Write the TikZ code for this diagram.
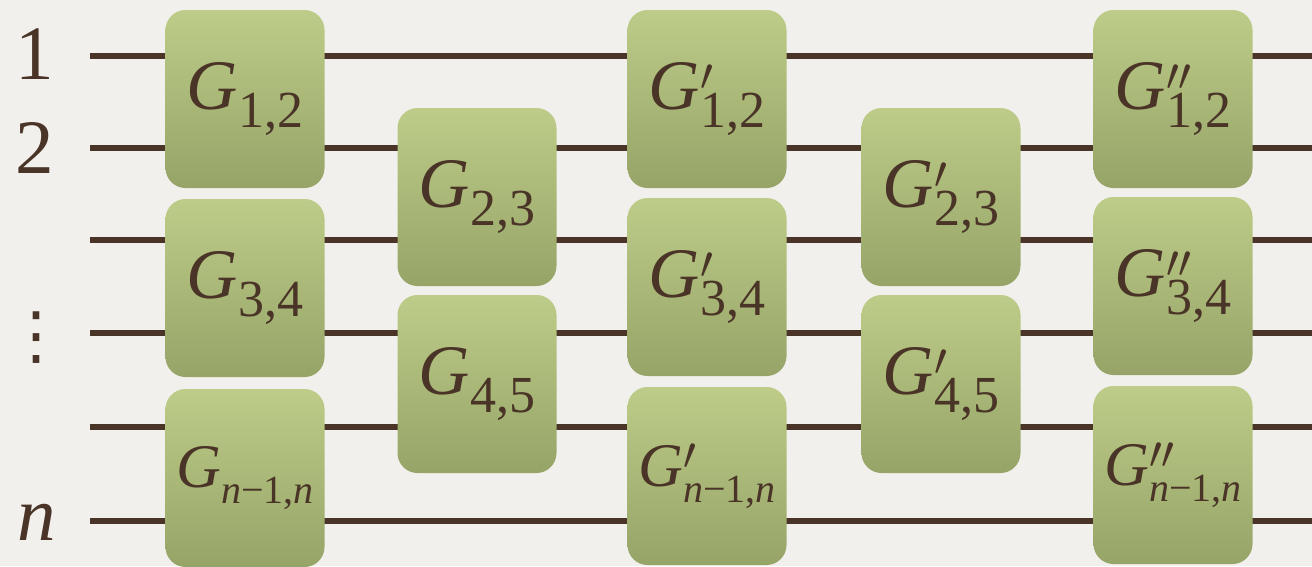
\documentclass[tikz,border=0pt]{standalone}
\usepackage{fontspec}
\setmainfont{Liberation Serif}
\newfontfamily\dotsfont{DejaVu Sans}
\usetikzlibrary{positioning}

\definecolor{wire}{HTML}{4A3427}
\definecolor{paper}{HTML}{F2F0EC}
\definecolor{gatetop}{HTML}{BDCC88}
\definecolor{gatebot}{HTML}{96A468}

% G with optional prime and a subscript
\newcommand{\glbl}[3][52]{\textit{G}\rlap{\raisebox{0.27em}{\fontsize{10}{10}\selectfont\scalebox{4.6}{$#2$}}}\raisebox{-0.26em}{\fontsize{#1}{#1}\selectfont #3}}
\newcommand{\nn}{\textit{n}}

\tikzset{
  gate/.style={rounded corners=20pt, minimum width=159pt, minimum height=178pt,
    inner sep=0pt, top color=gatetop, bottom color=gatebot, text=wire,
    font=\fontsize{71}{71}\selectfont},
  gatelast/.style={gate, font=\fontsize{62}{62}\selectfont},
  qwire/.style={draw=wire, line width=6.5pt},
  qlabel/.style={text=wire, inner sep=0pt, font=\fontsize{77}{77}\selectfont}
}

\begin{document}
\begin{tikzpicture}[x=1pt, y=-1pt]
  \fill[paper] (0,0) rectangle (1312,566);
  \useasboundingbox (0,0) rectangle (1312,566);

  % wire ends
  \coordinate (in1) at (90,56);   \coordinate (out1) at (1312,56);
  \coordinate (in2) at (90,148);  \coordinate (out2) at (1312,148);
  \coordinate (in3) at (90,240);  \coordinate (out3) at (1312,240);
  \coordinate (in4) at (90,333);  \coordinate (out4) at (1312,333);
  \coordinate (in5) at (90,427);  \coordinate (out5) at (1312,427);
  \coordinate (in6) at (90,521);  \coordinate (out6) at (1312,521);

  \foreach \i in {1,...,6}
    \draw[qwire] (in\i) -- (out\i);

  % wire labels
  \node[qlabel] (lab1) at (35,54) {1};
  \node[qlabel] (lab2) at (35,148) {2};
  \node[qlabel, font=\dotsfont\fontsize{64}{64}\selectfont] (labdots) at (37,338) {⋮};
  \node[qlabel] (labn) at (37,522) {\textit{n}};

  % first layer
  \node[gate] (G12) at (245,99) {\glbl{}{1,2}};
  \node[gate] (G34) at (245,288) {\glbl{}{3,4}};
  \node[gatelast] (Gn) at (245,478) {\glbl[40]{}{\nn−1,\nn}};
  % second layer
  \node[gate] (G23) at (477,197) {\glbl{}{2,3}};
  \node[gate] (G45) at (477,384) {\glbl{}{4,5}};
  % third layer
  \node[gate] (G12p) at (707,99) {\glbl{\prime}{1,2}};
  \node[gate] (G34p) at (707,287) {\glbl{\prime}{3,4}};
  \node[gatelast] (Gnp) at (707,476) {\glbl[40]{\prime}{\nn−1,\nn}};
  % fourth layer
  \node[gate] (G23p) at (941,197) {\glbl{\prime}{2,3}};
  \node[gate] (G45p) at (941,384) {\glbl{\prime}{4,5}};
  % fifth layer
  \node[gate] (G12pp) at (1173,99) {\glbl{\prime\prime}{1,2}};
  \node[gate] (G34pp) at (1173,286) {\glbl{\prime\prime}{3,4}};
  \node[gatelast] (Gnpp) at (1173,475) {\glbl[40]{\prime\prime}{\nn−1,\nn}};
\end{tikzpicture}
\end{document}
